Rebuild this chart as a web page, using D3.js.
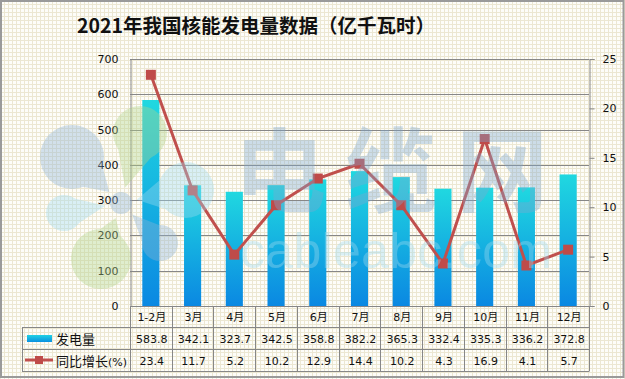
<!DOCTYPE html>
<html>
<head>
<meta charset="utf-8">
<script src="https://cdn.jsdelivr.net/npm/d3@7"></script>
<style>
  body { margin: 0; background: #fff; }
  svg { display: block; }
  text { font-family: "DejaVu Sans", "Noto Sans CJK SC", sans-serif; }
</style>
</head>
<body>
<svg id="chart" width="625" height="379"></svg>
<script>
// data
const months = ["1-2月", "3月", "4月", "5月", "6月", "7月", "8月", "9月", "10月", "11月", "12月"];
const output = [583.8, 342.1, 323.7, 342.5, 358.8, 382.2, 365.3, 332.4, 335.3, 336.2, 372.8];
const growth = [23.4, 11.7, 5.2, 10.2, 12.9, 14.4, 10.2, 4.3, 16.9, 4.1, 5.7];
const leftTicks = [0, 100, 200, 300, 400, 500, 600, 700];
const rightTicks = [0, 5, 10, 15, 20, 25];

const svg = d3.select("#chart");
const W = 625, H = 379;
const plot = { left: 130, right: 589, top: 59, bottom: 306 };
const rowY = [306, 327, 349, 371];
const tableLeft = 22;
const grid = "#878787";
const red = "#c0504d";

const defs = svg.append("defs");

// checkered background
const pat = defs.append("pattern")
  .attr("id", "bgPat")
  .attr("width", 4).attr("height", 4)
  .attr("patternUnits", "userSpaceOnUse");
pat.append("rect").attr("width", 4).attr("height", 4).attr("fill", "#ece7d2");
pat.append("rect").attr("x", 1).attr("y", 1).attr("width", 3).attr("height", 3).attr("fill", "#fdfdf9");

// bar gradient
const grad = defs.append("linearGradient")
  .attr("id", "barGrad")
  .attr("x1", 0).attr("y1", 0).attr("x2", 0).attr("y2", 1);
grad.append("stop").attr("offset", "0%").attr("stop-color", "#20d8e0");
grad.append("stop").attr("offset", "100%").attr("stop-color", "#0a88e2");

svg.append("rect").attr("width", W).attr("height", H).attr("fill", "url(#bgPat)");
svg.append("rect")
  .attr("x", 1).attr("y", 1).attr("width", W - 2.5).attr("height", H - 3)
  .attr("fill", "none").attr("stroke", "#9a9a9a").attr("stroke-width", 2);

// title
svg.append("text")
  .attr("x", 256).attr("y", 33)
  .attr("text-anchor", "middle")
  .style("font-family", "'Noto Sans CJK SC', sans-serif")
  .style("font-weight", "bold")
  .style("font-size", "19.5px")
  .attr("fill", "#111")
  .text("2021年我国核能发电量数据（亿千瓦时）");

// scales
const x = d3.scaleBand().domain(months).range([plot.left, plot.right]).padding(0);
const yL = d3.scaleLinear().domain([0, 700]).range([plot.bottom, plot.top]);
const yR = d3.scaleLinear().domain([0, 25]).range([plot.bottom, plot.top]);

// gridlines
svg.append("g")
  .selectAll("line")
  .data(leftTicks.filter(d => d > 0))
  .enter()
  .append("line")
  .attr("x1", plot.left).attr("x2", plot.right)
  .attr("y1", d => Math.round(yL(d)) + 0.5)
  .attr("y2", d => Math.round(yL(d)) + 0.5)
  .attr("stroke", grid).attr("stroke-width", 1);

// left axis (no tick marks, only labels)
const leftAxis = svg.append("g")
  .attr("transform", `translate(${plot.left + 0.5},0)`)
  .call(d3.axisLeft(yL).tickValues(leftTicks).tickSize(0).tickPadding(12));
leftAxis.select(".domain").attr("stroke", grid);
leftAxis.selectAll("text").style("font-size", "11px").attr("fill", "#111");

// right axis
const rightAxis = svg.append("g")
  .attr("transform", `translate(${plot.right + 0.5},0)`)
  .call(d3.axisRight(yR).tickValues(rightTicks).tickSize(5).tickPadding(8));
rightAxis.select(".domain").attr("stroke", grid);
rightAxis.selectAll(".tick line").attr("stroke", grid);
rightAxis.selectAll("text").style("font-size", "11px").attr("fill", "#111");

// bars
const barW = x.bandwidth() * 0.41;
svg.append("g")
  .selectAll("rect")
  .data(output)
  .enter()
  .append("rect")
  .attr("x", (d, i) => x(months[i]) + (x.bandwidth() - barW) / 2)
  .attr("y", d => yL(d))
  .attr("width", barW)
  .attr("height", d => plot.bottom - yL(d))
  .attr("fill", "url(#barGrad)");

// growth line
const cx = (d, i) => x(months[i]) + x.bandwidth() / 2;
const line = d3.line().x(cx).y(d => yR(d));
svg.append("path")
  .datum(growth)
  .attr("d", line)
  .attr("fill", "none")
  .attr("stroke", red)
  .attr("stroke-width", 3);
svg.append("g")
  .selectAll("rect")
  .data(growth)
  .enter()
  .append("rect")
  .attr("x", (d, i) => cx(d, i) - 5)
  .attr("y", d => yR(d) - 5)
  .attr("width", 10).attr("height", 10)
  .attr("fill", "#bf4b49");

// watermark: logo petals + text, drawn on top, faint
const wm = svg.append("g").attr("opacity", 0.38);
const logoC = [121, 203];
const petals = [
  { c: [72, 157], r: 32, tip: 16, color: "#8fb3d5" },
  { c: [140, 133], r: 27, tip: 16, color: "#b0d48a" },
  { c: [186, 190], r: 28, tip: 16, color: "#9fdaef" },
  { c: [160, 243], r: 18, tip: 16, color: "#8fb3d5" },
  { c: [101, 259], r: 30, tip: 16, color: "#b0d48a" },
  { c: [64, 213], r: 18, tip: 16, color: "#9fdaef" }
];
petals.forEach(p => {
  const dx = p.c[0] - logoC[0], dy = p.c[1] - logoC[1];
  const len = Math.hypot(dx, dy);
  const ux = dx / len, uy = dy / len;
  const tx = logoC[0] + ux * p.tip, ty = logoC[1] + uy * p.tip;
  const px = -uy * p.r, py = ux * p.r;
  const g = wm.append("g");
  g.append("circle").attr("cx", p.c[0]).attr("cy", p.c[1]).attr("r", p.r).attr("fill", p.color);
  g.append("path")
    .attr("d", `M${tx},${ty}L${p.c[0] + px},${p.c[1] + py}L${p.c[0] - px},${p.c[1] - py}Z`)
    .attr("fill", p.color);
});
wm.append("circle").attr("cx", logoC[0]).attr("cy", logoC[1]).attr("r", 11).attr("fill", "#8fb3d5");

wm.append("text")
  .attr("x", 234).attr("y", 205)
  .attr("textLength", 314)
  .style("font-family", "'Noto Sans CJK SC', sans-serif")
  .style("font-weight", "bold")
  .style("font-size", "92px")
  .attr("fill", "#7fa8cf")
  .text("电缆网");
wm.append("text")
  .attr("x", 240).attr("y", 268)
  .attr("textLength", 312)
  .style("font-family", "'Liberation Sans', Arial, sans-serif")
  .style("font-size", "50px")
  .attr("fill", "#9fdaef")
  .text("cableabc.com");

// data table
const table = svg.append("g");
const bounds = months.map(m => x(m)).concat([plot.right]);
table.selectAll("line.v")
  .data(bounds)
  .enter()
  .append("line")
  .attr("x1", d => Math.round(d) + 0.5).attr("x2", d => Math.round(d) + 0.5)
  .attr("y1", rowY[0]).attr("y2", rowY[3])
  .attr("stroke", grid);
table.append("line")
  .attr("x1", tableLeft + 0.5).attr("x2", tableLeft + 0.5)
  .attr("y1", rowY[1]).attr("y2", rowY[3])
  .attr("stroke", grid);
table.selectAll("line.h")
  .data(rowY)
  .enter()
  .append("line")
  .attr("x1", (d, i) => (i === 0 ? plot.left : tableLeft))
  .attr("x2", plot.right + 0.5)
  .attr("y1", d => d + 0.5).attr("y2", d => d + 0.5)
  .attr("stroke", grid);

const rows = [
  { y: (rowY[0] + rowY[1]) / 2, vals: months },
  { y: (rowY[1] + rowY[2]) / 2, vals: output.map(d => d.toFixed(1)) },
  { y: (rowY[2] + rowY[3]) / 2, vals: growth.map(d => d.toFixed(1)) }
];
rows.forEach(r => {
  table.append("g")
    .selectAll("text")
    .data(r.vals)
    .enter()
    .append("text")
    .attr("x", (d, i) => x(months[i]) + x.bandwidth() / 2 + 1)
    .attr("y", r.y + 1)
    .attr("dy", "0.35em")
    .attr("text-anchor", "middle")
    .style("font-size", "11px")
    .attr("fill", "#111")
    .text(d => d);
});

// legend cells
const lg = defs.append("linearGradient")
  .attr("id", "legGrad")
  .attr("x1", 0).attr("y1", 0).attr("x2", 0).attr("y2", 1);
lg.append("stop").attr("offset", "0%").attr("stop-color", "#22d2e4");
lg.append("stop").attr("offset", "100%").attr("stop-color", "#0a90e0");
table.append("rect")
  .attr("x", 27).attr("y", 335).attr("width", 25).attr("height", 7)
  .attr("fill", "url(#legGrad)");
table.append("text")
  .attr("x", 56).attr("y", rows[1].y + 1).attr("dy", "0.35em")
  .style("font-family", "'Noto Sans CJK SC', sans-serif")
  .style("font-size", "13px").attr("fill", "#111")
  .text("发电量");
table.append("line")
  .attr("x1", 25).attr("x2", 53).attr("y1", 360).attr("y2", 360)
  .attr("stroke", red).attr("stroke-width", 3);
table.append("rect")
  .attr("x", 35).attr("y", 356).attr("width", 8).attr("height", 8)
  .attr("fill", "#bf4b49");
const lt = table.append("text")
  .attr("x", 56).attr("y", rows[2].y + 1).attr("dy", "0.35em")
  .style("font-family", "'Noto Sans CJK SC', sans-serif")
  .style("font-size", "13px").attr("fill", "#111");
lt.append("tspan").text("同比增长");
lt.append("tspan").style("font-size", "11px").style("font-family", "'DejaVu Sans', sans-serif").text("(%)");
</script>
</body>
</html>
